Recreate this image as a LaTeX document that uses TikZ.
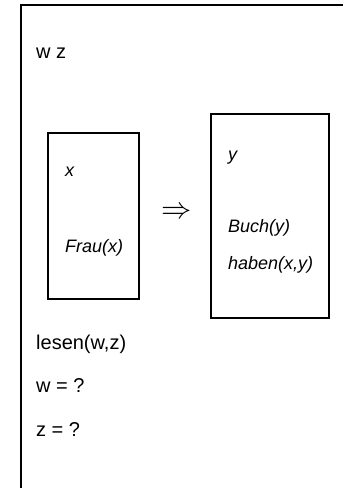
\documentclass[tikz,border=0pt]{standalone}
\usepackage{fontspec}
\setmainfont{Liberation Sans}
\begin{document}
\begin{tikzpicture}[x=1pt,y=-1pt,
  box/.style={draw,line width=2pt,inner sep=0pt,outer sep=0pt,anchor=north west},
  up/.style={anchor=base west,inner sep=0pt,font=\fontsize{20}{24}\selectfont},
  it/.style={anchor=base west,inner sep=0pt,font=\fontsize{18}{22}\selectfont\itshape}]
\useasboundingbox (0,0) rectangle (343,488);
\clip (0,0) rectangle (343,488);
\node[box,minimum width=360pt,minimum height=520pt] (drs) at (21,5) {};
\node[box,minimum width=91pt,minimum height=166pt] (left) at (48,133) {};
\node[box,minimum width=118pt,minimum height=204pt] (right) at (211,114) {};
\node[up] (wz) at (36,58.5) {w z};
\node[it] (x) at (65,176.5) {x};
\node[it] (frau) at (65,252) {Frau(x)};
\node[inner sep=0pt,scale=1.22] (arr) at (177,213) {\Huge$\Rightarrow$};
\node[it] (y) at (228,160.5) {y};
\node[it] (buch) at (228,232) {Buch(y)};
\node[it] (haben) at (228,269) {haben(x,y)};
\node[up] (lesen) at (36,349) {lesen(w,z)};
\node[up] (w) at (36,392) {w = ?};
\node[up] (z) at (36,436) {z = ?};
\end{tikzpicture}
\end{document}
